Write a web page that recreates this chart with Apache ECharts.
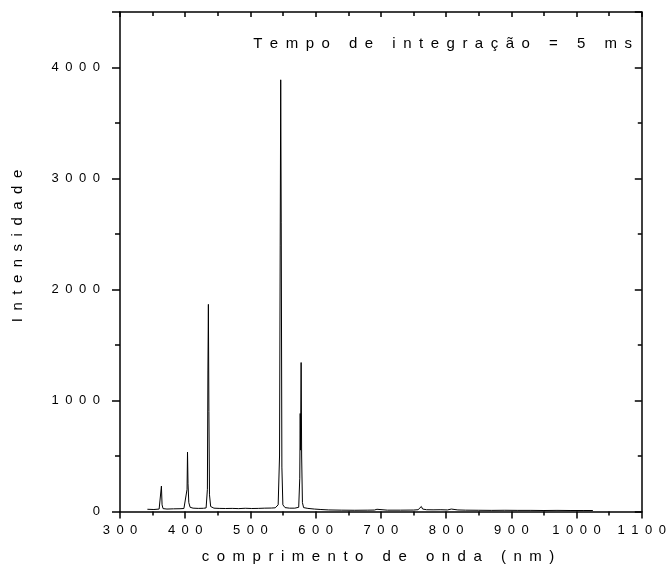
<!DOCTYPE html>
<html>
<head>
<meta charset="utf-8">
<script src="https://cdn.jsdelivr.net/npm/echarts@6/dist/echarts.min.js"></script>
<style>
  html, body { margin: 0; padding: 0; background: #fff; }
  #chart { width: 669px; height: 569px; }
</style>
</head>
<body>
<div id="chart"></div>
<script>
// ---- data ----
const wavelength = [342, 352, 360, 362.5, 363.5, 364.5, 366, 372, 382, 392, 398, 401, 402.8, 403.5, 404.3, 405.5, 407.5, 412, 420, 428, 432, 434, 434.8, 435.5, 436.3, 437.2, 439, 444, 452, 462, 472, 482, 492, 502, 512, 522, 532, 538, 542.5, 544.6, 545.6, 546.4, 547.2, 548.2, 549.7, 553, 560, 568, 574, 575.6, 576.3, 576.8, 577.7, 578.5, 579.7, 581.5, 588, 598, 608, 620, 640, 660, 680, 690, 694, 696, 710, 730, 750, 757, 760, 762, 764, 770, 780, 792, 802, 808, 811, 818, 830, 850, 870, 890, 910, 930, 950, 970, 990, 1010, 1025];
const intensity = [20, 18, 22, 40, 229, 60, 26, 22, 24, 25, 27, 40, 200, 535, 250, 80, 38, 30, 28, 29, 32, 200, 1266, 1866, 900, 150, 45, 30, 28, 27, 28, 26, 29, 27, 28, 30, 31, 33, 60, 500, 2400, 3889, 2600, 400, 60, 35, 30, 30, 38, 300, 883, 553, 1342, 500, 80, 35, 28, 22, 18, 14, 12, 11, 12, 13, 20, 14, 12, 12, 13, 16, 30, 45, 22, 16, 15, 16, 14, 22, 18, 14, 12, 11, 10, 11, 10, 10, 9, 10, 9, 9, 9];
const xTicks = [300, 400, 500, 600, 700, 800, 900, 1000, 1100];
const yTicks = [0, 1000, 2000, 3000, 4000];
const xTitle = 'comprimento de onda (nm)';
const yTitle = 'Intensidade';
const note = 'Tempo de integração = 5 ms';

// ---- helpers ----
const SEP = '\u2002';
const spaced = s => String(s).split('').join(SEP);
const FONT = '"Liberation Sans", Arial, sans-serif';

const chart = echarts.init(document.getElementById('chart'), null, { renderer: 'canvas' });
const lineW = 1.5;
const axisCommon = {
  type: 'value',
  axisLine: { show: true, onZero: false, lineStyle: { color: '#000', width: lineW } },
  splitLine: { show: false },
};
const option = {
  animation: false,
  backgroundColor: '#fff',
  grid: { left: 120, right: 23, top: 12, bottom: 57.5, containLabel: false },
  xAxis: [
    Object.assign({}, axisCommon, {
      position: 'bottom', min: xTicks[0], max: xTicks[xTicks.length - 1], interval: 100,
      axisTick: { show: true, inside: false, length: 7, lineStyle: { color: '#000', width: lineW } },
      minorTick: { show: true, splitNumber: 2, length: 4, lineStyle: { color: '#000', width: lineW } },
      axisLabel: { color: '#000', fontFamily: FONT, fontSize: 13, margin: 12, formatter: v => spaced(v) },
    }),
    Object.assign({}, axisCommon, {
      position: 'top', min: xTicks[0], max: xTicks[xTicks.length - 1], interval: 100,
      axisTick: { show: true, inside: true, length: 5, lineStyle: { color: '#000', width: lineW } },
      minorTick: { show: true, splitNumber: 2, length: 4, lineStyle: { color: '#000', width: lineW } },
      axisLabel: { show: false },
    }),
  ],
  yAxis: [
    Object.assign({}, axisCommon, {
      position: 'left', min: 0, max: 4500, interval: 1000,
      axisTick: { show: true, inside: false, length: 8, lineStyle: { color: '#000', width: lineW } },
      minorTick: { show: true, splitNumber: 2, length: 5, lineStyle: { color: '#000', width: lineW } },
      axisLabel: { color: '#000', fontFamily: FONT, fontSize: 13, margin: 20, showMaxLabel: false,
        formatter: v => (yTicks.indexOf(v) >= 0 ? spaced(v) : '') },
    }),
    Object.assign({}, axisCommon, {
      position: 'right', min: 0, max: 4500, interval: 1000,
      axisTick: { show: true, inside: true, length: 7, lineStyle: { color: '#000', width: lineW } },
      minorTick: { show: true, splitNumber: 2, length: 4, lineStyle: { color: '#000', width: lineW } },
      axisLabel: { show: false },
    }),
  ],
  graphic: [
    { type: 'text', x: 18, y: 246, rotation: Math.PI / 2,
      style: { text: spaced(yTitle), fill: '#000', font: '15px ' + FONT, textAlign: 'center', textVerticalAlign: 'middle' } },
    { type: 'text', x: 378, y: 557,
      style: { text: spaced(xTitle), fill: '#000', font: '15px ' + FONT, textAlign: 'center', textVerticalAlign: 'middle' } },
    { type: 'text', x: 632, y: 44,
      style: { text: spaced(note), fill: '#000', font: '15px ' + FONT, textAlign: 'right', textVerticalAlign: 'middle' } },
  ],
  series: [{
    type: 'line',
    xAxisIndex: 0, yAxisIndex: 0,
    data: wavelength.map((w, i) => [w, intensity[i]]),
    showSymbol: false, symbol: 'none', smooth: false, sampling: 'none',
    lineStyle: { color: '#000', width: 1 },
    silent: true,
  }],
};
chart.setOption(option);
</script>
</body>
</html>
